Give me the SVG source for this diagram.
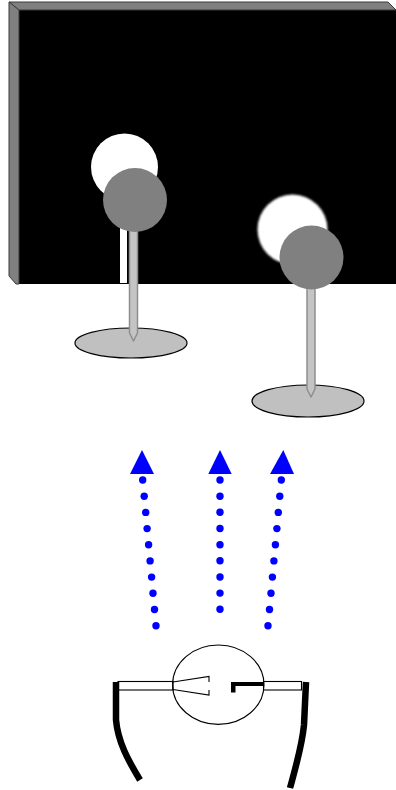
<svg xmlns="http://www.w3.org/2000/svg" width="396" height="790" viewBox="0 0 396 790">
  <style>
    .face { fill: #808080; stroke: #3a3a3a; stroke-width: 1; }
    .glow { fill: #ffffff; }
    .head { fill: #808080; }
    .stick { fill: #c4c4c4; stroke: #8e8e8e; stroke-width: 1.5; stroke-linejoin: round; }
    .base { fill: #c0c0c0; stroke: #000; stroke-width: 1.2; }
    .dots circle { fill: #0000ff; }
    .tip { fill: #0000ff; }
    .thin { fill: #fff; stroke: #000; stroke-width: 1.1; }
    .wire { fill: none; stroke: #000; stroke-width: 1.1; }
    .arm { fill: none; stroke: #000; stroke-width: 6.5; stroke-linecap: butt; stroke-linejoin: round; }
  </style>
  <defs>
    <filter id="soft" x="-20%" y="-20%" width="140%" height="140%">
      <feGaussianBlur stdDeviation="1.3"/>
    </filter>
  </defs>
  <rect width="396" height="790" fill="#fff"/>

  <!-- backdrop board -->
  <g id="board">
    <rect x="19" y="10" width="377" height="274" fill="#000"/>
    <polygon class="face" points="9,2 388,2 396,10 19,10"/>
    <polygon class="face" points="9,2 19,10 19,284 16,284 9,276"/>
  </g>

  <!-- near pin -->
  <g id="pin-left">
    <circle class="glow" cx="124.5" cy="167" r="33.5"/>
    <rect x="120" y="222" width="7" height="61" fill="#fff"/>
    <ellipse class="base" cx="131" cy="343" rx="56" ry="15"/>
    <path class="stick" d="M129.5,226 L137.5,226 L137.5,333 L133.5,341 L129.5,333 Z"/>
    <circle class="head" cx="135" cy="200" r="32"/>
  </g>

  <!-- far pin -->
  <g id="pin-right">
    <circle class="glow" cx="292.5" cy="229.5" r="35" filter="url(#soft)"/>
    <ellipse class="base" cx="308" cy="401" rx="56" ry="16"/>
    <path class="stick" d="M307,284 L315,284 L315,389 L311,397 L307,389 Z"/>
    <circle class="head" cx="311.5" cy="257.5" r="32"/>
  </g>

  <!-- lines of sight -->
  <g id="connectors">
    <g class="dots">
      <circle cx="142.7" cy="480" r="3.7"/>
      <circle cx="144.2" cy="496.2" r="3.7"/>
      <circle cx="145.7" cy="512.4" r="3.7"/>
      <circle cx="147.1" cy="528.6" r="3.7"/>
      <circle cx="148.6" cy="544.8" r="3.7"/>
      <circle cx="150.1" cy="560.9" r="3.7"/>
      <circle cx="151.6" cy="577.1" r="3.7"/>
      <circle cx="153.0" cy="593.3" r="3.7"/>
      <circle cx="154.5" cy="609.5" r="3.7"/>
      <circle cx="156.0" cy="625.7" r="3.7"/>

      <circle cx="220" cy="480" r="3.7"/>
      <circle cx="220" cy="496.2" r="3.7"/>
      <circle cx="220" cy="512.3" r="3.7"/>
      <circle cx="220" cy="528.5" r="3.7"/>
      <circle cx="220" cy="544.7" r="3.7"/>
      <circle cx="220" cy="560.8" r="3.7"/>
      <circle cx="220" cy="577.0" r="3.7"/>
      <circle cx="220" cy="593.1" r="3.7"/>
      <circle cx="220" cy="609.3" r="3.7"/>

      <circle cx="281.3" cy="480" r="3.7"/>
      <circle cx="279.8" cy="496.2" r="3.7"/>
      <circle cx="278.3" cy="512.4" r="3.7"/>
      <circle cx="276.9" cy="528.6" r="3.7"/>
      <circle cx="275.4" cy="544.8" r="3.7"/>
      <circle cx="273.9" cy="560.9" r="3.7"/>
      <circle cx="272.4" cy="577.1" r="3.7"/>
      <circle cx="271.0" cy="593.3" r="3.7"/>
      <circle cx="269.5" cy="609.5" r="3.7"/>
      <circle cx="268.0" cy="625.7" r="3.7"/>
    </g>
    <polygon class="tip" points="142,450 130,474 154,474"/>
    <polygon class="tip" points="220,450 208.3,474 231.7,474"/>
    <polygon class="tip" points="283.3,450 270,474 294,474"/>
  </g>

  <!-- viewer seen from above -->
  <g id="viewer">
    <rect class="thin" x="118" y="681.5" width="55" height="8.5"/>
    <rect class="thin" x="263.5" y="681.5" width="38" height="8.5"/>
    <ellipse class="wire" cx="218.3" cy="684.7" rx="45.7" ry="39.7"/>
    <path class="wire" d="M173,682 L209,676.5 L209,682 M173,689.5 L209,695 L209,690"/>
    <rect x="231" y="682" width="32.5" height="4" fill="#000"/>
    <rect x="231" y="682" width="4.5" height="10.5" fill="#000"/>
    <path class="arm" d="M116,682 L116,720 C118,742 128,760 140,780"/>
    <path class="arm" d="M306,682 L304,725 C302,746 296,766 290,788"/>
  </g>
</svg>
